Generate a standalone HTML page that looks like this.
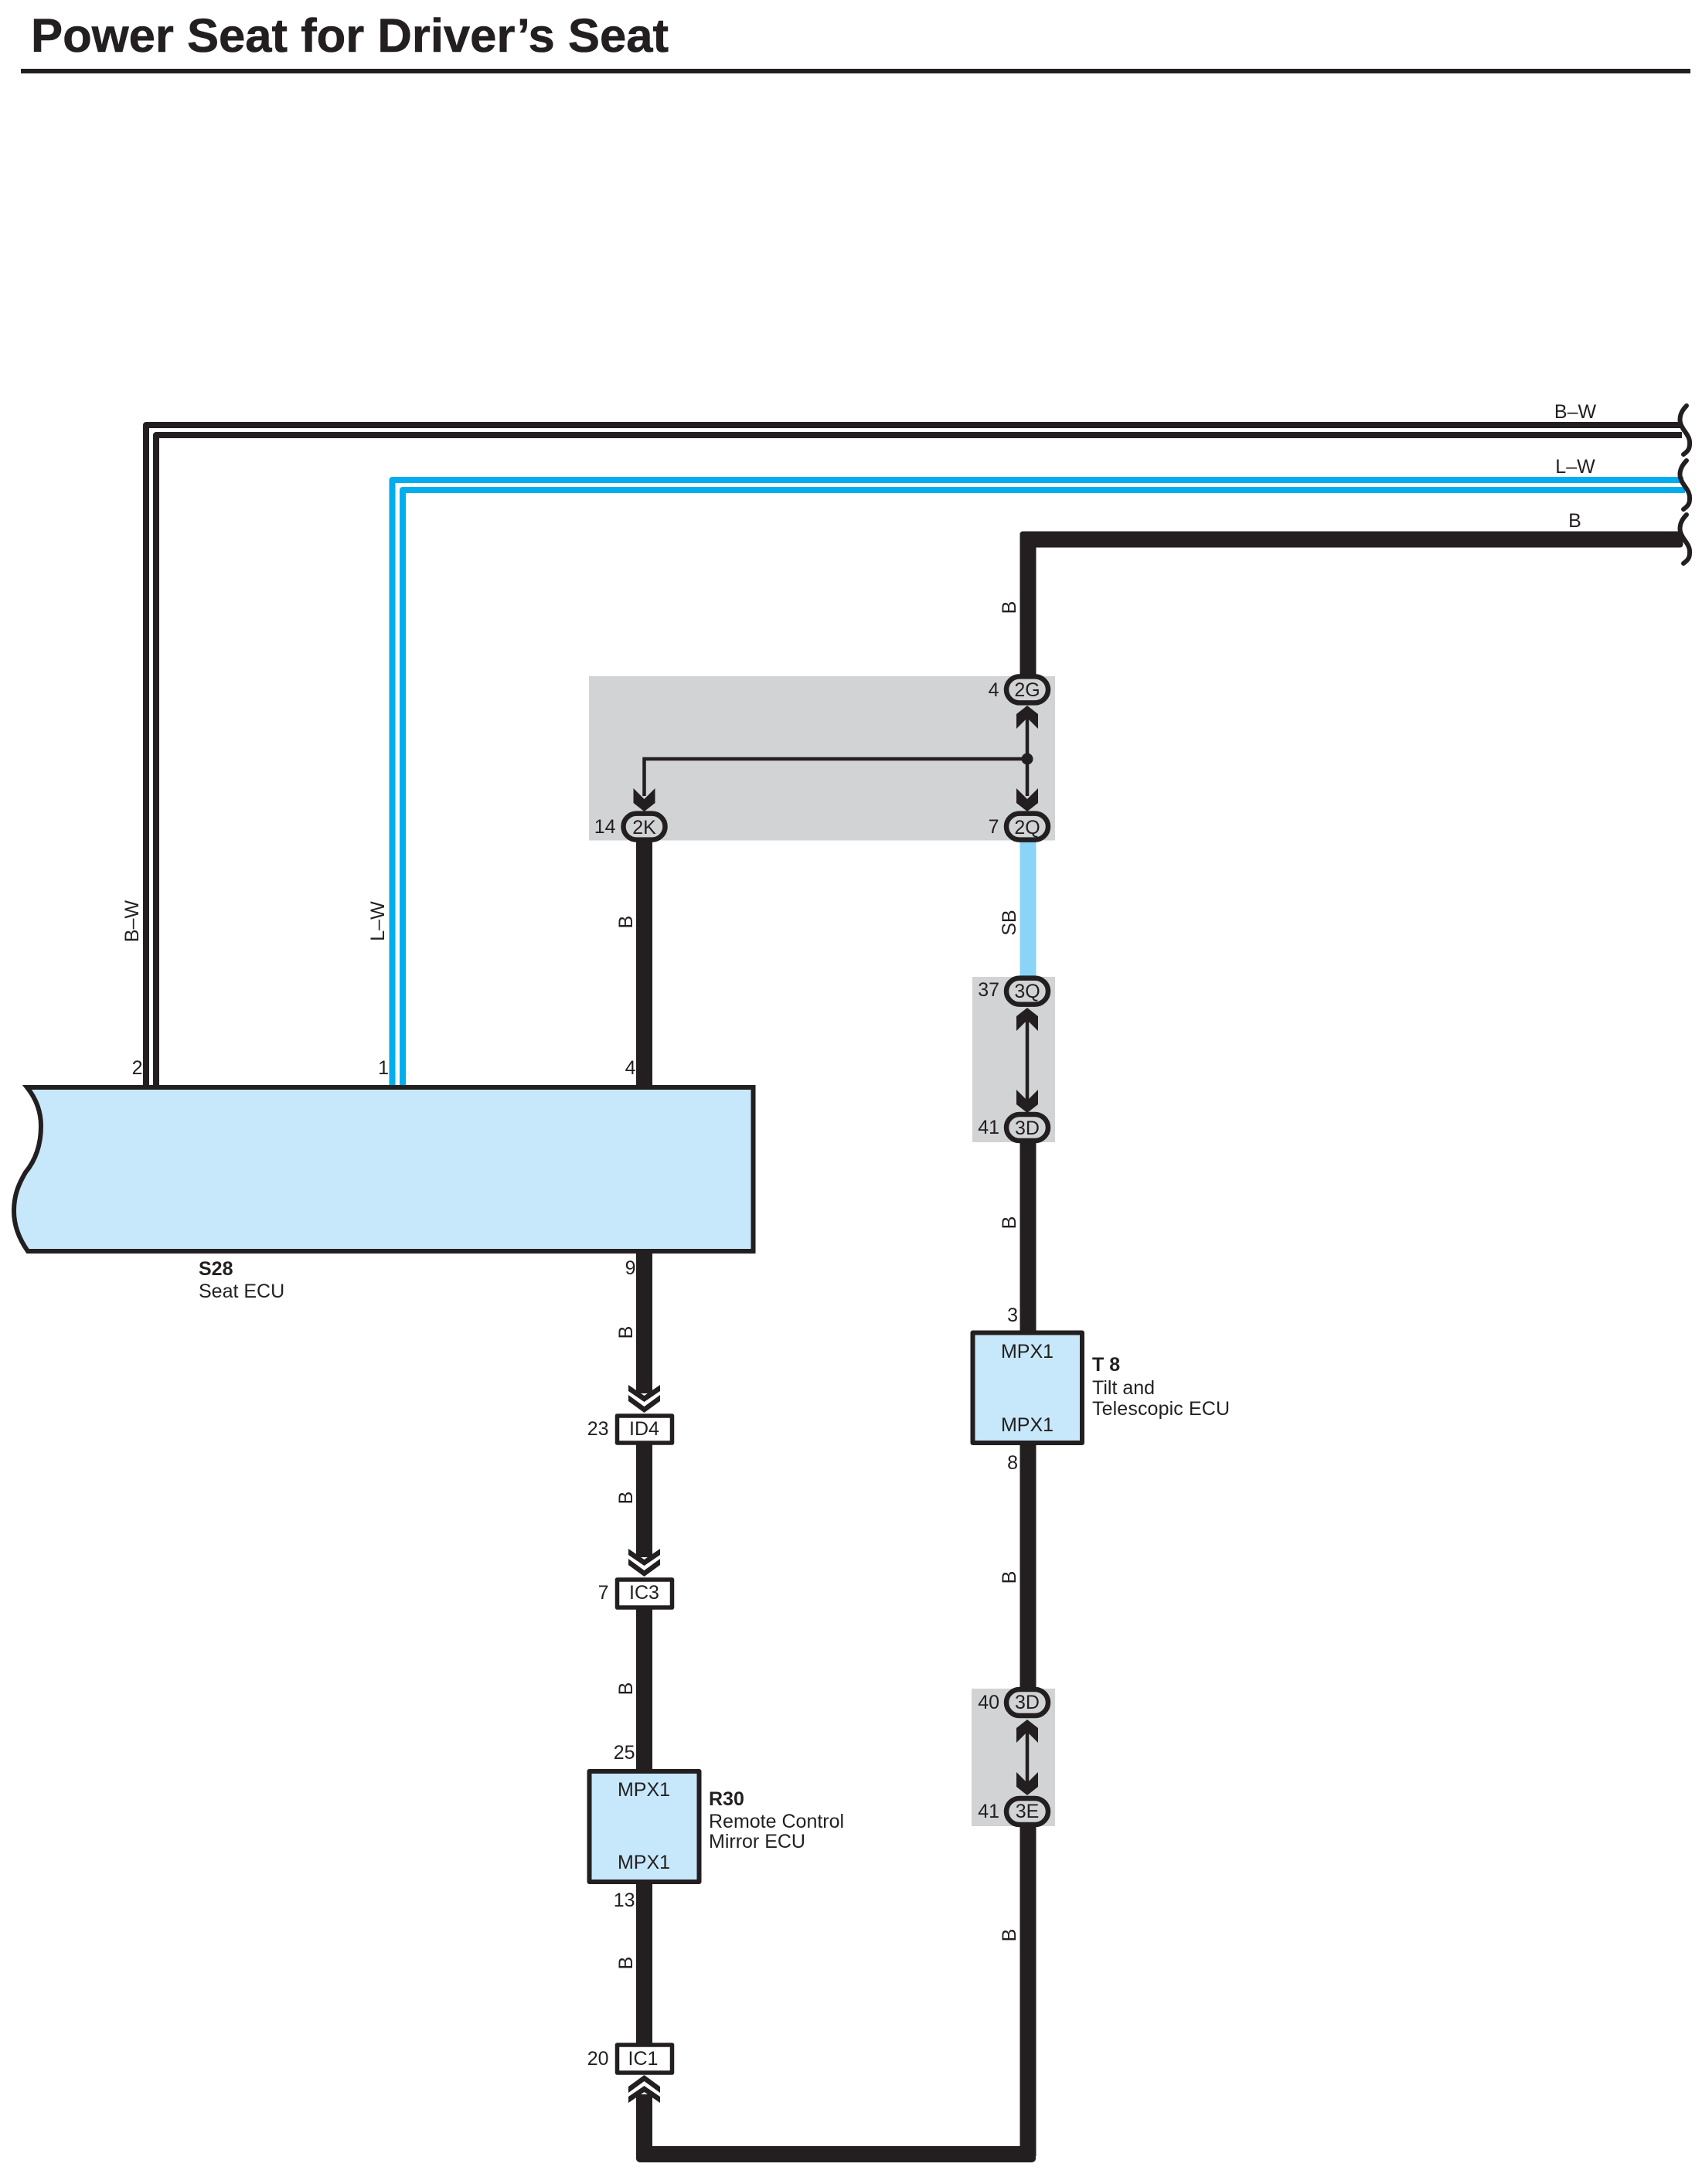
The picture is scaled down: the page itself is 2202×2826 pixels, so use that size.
<!DOCTYPE html>
<html><head><meta charset="utf-8"><style>
html,body{margin:0;padding:0;background:#fff}
svg{display:block}
text{font-family:"Liberation Sans",sans-serif;font-size:25px;fill:#231f20}
.m{text-anchor:middle}.e{text-anchor:end}.b{font-weight:bold}
</style></head><body>
<svg width="2202" height="2826" viewBox="0 0 2202 2826" xmlns="http://www.w3.org/2000/svg">
<defs>
<polygon id="cd" points="-14,-30 0,-16 14,-30 14,-11 0,0 -14,-11" fill="#231f20"/>
<g id="dc" fill="#231f20">
<polygon points="-20.5,-23 0,-8 20.5,-23 20.5,-15 0,0 -20.5,-15"/>
<polygon points="-20.5,-36 0,-22 20.5,-36 20.5,-28 0,-14 -20.5,-28"/>
</g>
<path id="br" d="M2182,525 C2172,535 2172,545 2176,552 C2180,560 2187,565 2186,575 C2186,582 2182,585 2178,588" fill="none" stroke="#231f20" stroke-width="6" stroke-linecap="round"/>
</defs>

<text x="40" y="67" class="b" style="font-size:61px;stroke:#231f20;stroke-width:.6" textLength="825" lengthAdjust="spacingAndGlyphs">Power Seat for Driver’s Seat</text>
<rect x="27" y="89" width="2160" height="6" fill="#231f20"/>

<!-- gray zones -->
<rect x="762" y="875" width="603" height="212.5" fill="#d1d3d4"/>
<rect x="1258" y="1264" width="107" height="214" fill="#d1d3d4"/>
<rect x="1257" y="2185" width="108" height="178" fill="#d1d3d4"/>

<!-- double wires -->
<path d="M189,1406 V550 H2176" fill="none" stroke="#231f20" stroke-width="8" stroke-linejoin="round"/>
<path d="M202,1406 V563 H2176" fill="none" stroke="#231f20" stroke-width="8" stroke-linejoin="round"/>
<path d="M507.5,1406 V621 H2178" fill="none" stroke="#00aeef" stroke-width="8" stroke-linejoin="round"/>
<path d="M521,1406 V634 H2180" fill="none" stroke="#00aeef" stroke-width="8" stroke-linejoin="round"/>

<!-- thick wires -->
<rect x="1319.5" y="687.5" width="858" height="21" rx="4" fill="#231f20"/>
<rect x="1319.5" y="687.5" width="21" height="190" rx="4" fill="#231f20"/>
<rect x="1319.5" y="1087" width="21" height="178" fill="#8ad4f7"/>
<rect x="823" y="1087" width="21" height="320" fill="#231f20"/>
<rect x="1319.5" y="1476" width="21" height="250" fill="#231f20"/>
<rect x="1319.5" y="1866" width="21" height="320" fill="#231f20"/>
<rect x="1319.5" y="2360" width="21" height="430" fill="#231f20"/>
<rect x="823" y="1620" width="21" height="183" fill="#231f20"/>
<rect x="823" y="1868" width="21" height="147" fill="#231f20"/>
<rect x="823" y="2080" width="21" height="212" fill="#231f20"/>
<rect x="823" y="2434" width="21" height="212" fill="#231f20"/>
<rect x="823" y="2710" width="21" height="80" fill="#231f20"/>
<rect x="823" y="2777" width="517" height="21" rx="5" fill="#231f20"/>

<!-- thin -->
<g fill="none" stroke="#231f20" stroke-width="4.5">
<path d="M833.5,1030 V982 H1329"/>
<path d="M1329,925 V1030"/>
<path d="M1329,1310 V1430"/>
<path d="M1329,2235 V2315"/>
</g>
<circle cx="1329" cy="982" r="7.5" fill="#231f20"/>

<!-- solid chevrons -->
<use href="#cd" transform="translate(1329,913) scale(1,-1)"/>
<use href="#cd" transform="translate(1329,1050)"/>
<use href="#cd" transform="translate(833.5,1050)"/>
<use href="#cd" transform="translate(1329,1304) scale(1,-1)"/>
<use href="#cd" transform="translate(1329,1440)"/>
<use href="#cd" transform="translate(1329,2225) scale(1,-1)"/>
<use href="#cd" transform="translate(1329,2323)"/>

<!-- double chevrons -->
<use href="#dc" transform="translate(833.5,1828)"/>
<use href="#dc" transform="translate(833.5,2040)"/>
<use href="#dc" transform="translate(833.5,2685) scale(1,-1)"/>

<!-- pills -->
<g fill="#d1d3d4" stroke="#231f20" stroke-width="6.5">
<rect x="806.5" y="1052.6" width="54" height="34" rx="17"/>
<rect x="1302" y="875.4" width="54" height="34" rx="17"/>
<rect x="1302" y="1052.6" width="54" height="34" rx="17"/>
<rect x="1302" y="1265.6" width="54" height="34" rx="17"/>
<rect x="1302" y="1442" width="54" height="34" rx="17"/>
<rect x="1302" y="2186" width="54" height="34" rx="17"/>
<rect x="1302" y="2327" width="54" height="34" rx="17"/>
</g>

<!-- rectangular connectors -->
<g fill="#fff" stroke="#231f20" stroke-width="5.5" stroke-linejoin="round">
<rect x="798.5" y="1832" width="71" height="35"/>
<rect x="798.5" y="2044" width="71" height="36"/>
<rect x="798.5" y="2646" width="71" height="36"/>
</g>

<!-- ECU boxes -->
<path d="M35,1407 H974.5 V1619 H36 C24,1602 18,1585 18,1567 C18,1548 23,1534 33,1517 C47,1500 53,1480 53,1457 C53,1438 47,1422 35,1407 Z" fill="#c7e8fb" stroke="#231f20" stroke-width="6"/>
<rect x="762.5" y="2292" width="142" height="143" fill="#c7e8fb" stroke="#231f20" stroke-width="6" stroke-linejoin="round"/>
<rect x="1258.5" y="1724.5" width="141.5" height="142.5" fill="#c7e8fb" stroke="#231f20" stroke-width="6" stroke-linejoin="round"/>

<!-- braces -->
<use href="#br"/>
<use href="#br" transform="translate(0,71)"/>
<use href="#br" transform="translate(0,141)"/>

<!-- wire labels -->
<text x="2038" y="541" class="m">B–W</text>
<text x="2038" y="612" class="m">L–W</text>
<text x="2037.5" y="682" class="m">B</text>
<text class="m" transform="translate(179,1192) rotate(-90)">B–W</text>
<text class="m" transform="translate(497,1192) rotate(-90)">L–W</text>
<text class="m" transform="translate(1314,786) rotate(-90)">B</text>
<text class="m" transform="translate(818,1193) rotate(-90)">B</text>
<text class="m" transform="translate(1314,1194) rotate(-90)">SB</text>
<text class="m" transform="translate(1314,1582) rotate(-90)">B</text>
<text class="m" transform="translate(818,1724) rotate(-90)">B</text>
<text class="m" transform="translate(818,1938) rotate(-90)">B</text>
<text class="m" transform="translate(818,2185) rotate(-90)">B</text>
<text class="m" transform="translate(818,2540) rotate(-90)">B</text>
<text class="m" transform="translate(1314,2041) rotate(-90)">B</text>
<text class="m" transform="translate(1314,2504) rotate(-90)">B</text>

<!-- pin numbers -->
<text x="184.5" y="1390" class="e">2</text>
<text x="503" y="1390" class="e">1</text>
<text x="822.5" y="1390" class="e">4</text>
<text x="822.5" y="1649" class="e">9</text>
<text x="1292.5" y="901" class="e">4</text>
<text x="796.5" y="1078" class="e">14</text>
<text x="1292.5" y="1078" class="e">7</text>
<text x="1293" y="1289" class="e">37</text>
<text x="1293" y="1467" class="e">41</text>
<text x="1317" y="1710" class="e">3</text>
<text x="1317" y="1901" class="e">8</text>
<text x="1293" y="2211" class="e">40</text>
<text x="1293" y="2352" class="e">41</text>
<text x="787.5" y="1857" class="e">23</text>
<text x="787.5" y="2069" class="e">7</text>
<text x="821.5" y="2276" class="e">25</text>
<text x="821.5" y="2467" class="e">13</text>
<text x="787.5" y="2672" class="e">20</text>

<!-- connector codes -->
<text x="833.5" y="1079" class="m">2K</text>
<text x="1329" y="901" class="m">2G</text>
<text x="1329" y="1079" class="m">2Q</text>
<text x="1329" y="1291" class="m">3Q</text>
<text x="1329" y="1468" class="m">3D</text>
<text x="1329" y="2211" class="m">3D</text>
<text x="1329" y="2352" class="m">3E</text>
<text x="833.5" y="1857" class="m">ID4</text>
<text x="833.5" y="2069" class="m">IC3</text>
<text x="832" y="2672" class="m">IC1</text>

<!-- component labels -->
<text x="833" y="2324" class="m">MPX1</text>
<text x="833" y="2418" class="m">MPX1</text>
<text x="1329" y="1757" class="m">MPX1</text>
<text x="1329" y="1852" class="m">MPX1</text>
<text x="257" y="1650" class="b">S28</text>
<text x="257" y="1679">Seat ECU</text>
<text x="917" y="2336" class="b">R30</text>
<text x="917" y="2365">Remote Control</text>
<text x="917" y="2391">Mirror ECU</text>
<text x="1413" y="1774" class="b">T 8</text>
<text x="1413" y="1804">Tilt and</text>
<text x="1413" y="1831" textLength="178">Telescopic ECU</text>
</svg>
</body></html>
